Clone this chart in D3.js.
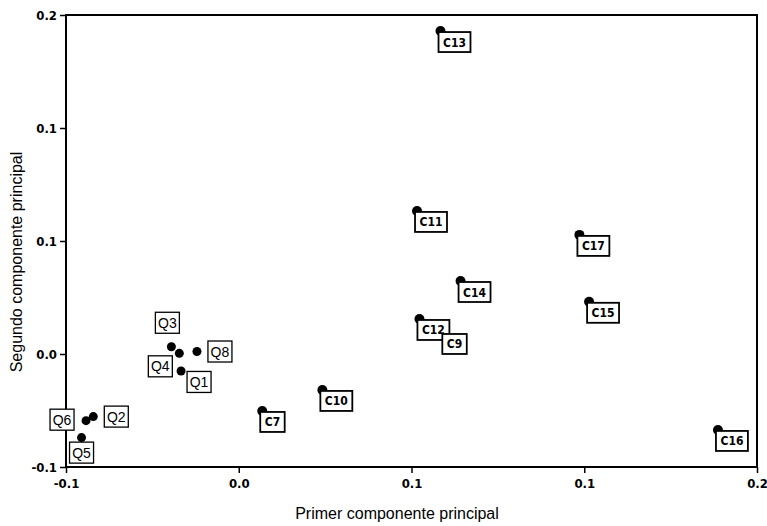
<!DOCTYPE html>
<html>
<head>
<meta charset="utf-8">
<script src="https://cdn.jsdelivr.net/npm/d3@7"></script>
<style>
  html, body { margin: 0; padding: 0; background: #fff; }
  svg { display: block; }
</style>
</head>
<body>
<svg id="chart" width="767" height="526"></svg>
<script>
// ---- data ----
const labels = ["C13","C11","C17","C14","C15","C12","C9","C10","C7","C16",
                "Q3","Q4","Q8","Q1","Q6","Q2","Q5"];
const xValues = [0.0584, 0.0516, 0.0986, 0.0642, 0.1014, 0.0523, 0.0595, 0.0242, 0.0068, 0.1387,
                 -0.0195, -0.0172, -0.0121, -0.0167, -0.0442, -0.0421, -0.0455];
const yValues = [0.1429, 0.0633, 0.0527, 0.0323, 0.0231, 0.0155, 0.0093, -0.0159, -0.0252, -0.0336,
                 0.0032, 0.0003, 0.0011, -0.0075, -0.0295, -0.0277, -0.0370];
// label placement keyword relative to the point
const labelPlacement = ["tag","tag","tag","tag","tag","tag","tag","tag","tag","tag",
                        "n","sw","e","se","w","e","s"];
const xTickValues = [-0.05, 0, 0.05, 0.1, 0.15];
const xTickLabels = ["-0.1","0.0","0.1","0.1","0.2"];
const yTickValues = [-0.05, 0, 0.05, 0.1, 0.15];
const yTickLabels = ["-0.1","0.0","0.1","0.1","0.2"];
const xTitle = "Primer componente principal";
const yTitle = "Segundo componente principal";

// ---- layout ----
const svg = d3.select("#chart");
const m = {left: 66, right: 10, top: 15, bottom: 59};
const W = 767, H = 526;
const x = d3.scaleLinear().domain([-0.05, 0.15]).range([m.left, W - m.right]);
const y = d3.scaleLinear().domain([-0.05, 0.15]).range([H - m.bottom, m.top]);

const tickFont = "'DejaVu Sans Condensed', 'DejaVu Sans', sans-serif";

// axes
const xAxis = d3.axisBottom(x).tickValues(xTickValues)
  .tickFormat((d, i) => xTickLabels[i]).tickSize(6).tickPadding(6);
const yAxis = d3.axisLeft(y).tickValues(yTickValues)
  .tickFormat((d, i) => yTickLabels[i]).tickSize(6).tickPadding(3);

const gx = svg.append("g").attr("transform", `translate(0,${y.range()[0]})`).call(xAxis);
const gy = svg.append("g").attr("transform", `translate(${m.left},0)`).call(yAxis);
[gx, gy].forEach(g => {
  g.select(".domain").remove();
  g.selectAll(".tick line").attr("stroke", "#000").attr("stroke-width", 1.5);
  g.selectAll(".tick text").attr("fill", "#000")
    .style("font-family", tickFont).style("font-weight", "bold").style("font-size", "13px");
});

// frame
svg.append("rect")
  .attr("x", x.range()[0]).attr("y", y.range()[1])
  .attr("width", x.range()[1] - x.range()[0])
  .attr("height", y.range()[0] - y.range()[1])
  .attr("fill", "none").attr("stroke", "#000").attr("stroke-width", 2);

// titles
svg.append("text").attr("x", 397).attr("y", 519).attr("text-anchor", "middle")
  .style("font-family", "'Liberation Sans', Arial, sans-serif").style("font-size", "16px")
  .text(xTitle);
svg.append("text").attr("transform", "translate(22,262) rotate(-90)").attr("text-anchor", "middle")
  .style("font-family", "'Liberation Sans', Arial, sans-serif").style("font-size", "16px")
  .text(yTitle);

// points
const data = labels.map((l, i) => ({label: l, x: xValues[i], y: yValues[i], place: labelPlacement[i]}));

svg.append("g").selectAll("circle").data(data).join("circle")
  .attr("cx", d => x(d.x)).attr("cy", d => y(d.y))
  .attr("r", d => d.place === "tag" ? 5 : 4.5)
  .attr("fill", "#000");

// labels
const offsets = {n: [-4, -24], s: [0, 15], e: [23, 0], w: [-24, -1], sw: [-19, 13], se: [18, 11]};
const lg = svg.append("g");
data.forEach(d => {
  const px = x(d.x), py = y(d.y);
  const g = lg.append("g");
  if (d.place === "tag") {
    const t = g.append("text")
      .style("font-family", tickFont).style("font-weight", "bold").style("font-size", "12px")
      .attr("text-anchor", "start").text(d.label);
    const tw = t.node().getComputedTextLength();
    const bw = tw + 9, bh = 20;
    const bx = px - 2, by = py + 1;
    g.insert("rect", "text").attr("x", bx).attr("y", by).attr("width", bw).attr("height", bh)
      .attr("fill", "#fff").attr("stroke", "#000").attr("stroke-width", 1.8);
    t.attr("x", bx + 4.5).attr("y", by + bh / 2 + 4.5);
  } else {
    const o = offsets[d.place];
    const cx = px + o[0], cy = py + o[1];
    const bw = 24, bh = 21;
    g.append("rect").attr("x", cx - bw / 2).attr("y", cy - bh / 2).attr("width", bw).attr("height", bh)
      .attr("fill", "#fff").attr("stroke", "#000").attr("stroke-width", 1.3);
    g.append("text").attr("x", cx).attr("y", cy + 5).attr("text-anchor", "middle")
      .style("font-family", "'Liberation Sans', Arial, sans-serif").style("font-size", "14px")
      .text(d.label);
  }
});
</script>
</body>
</html>
